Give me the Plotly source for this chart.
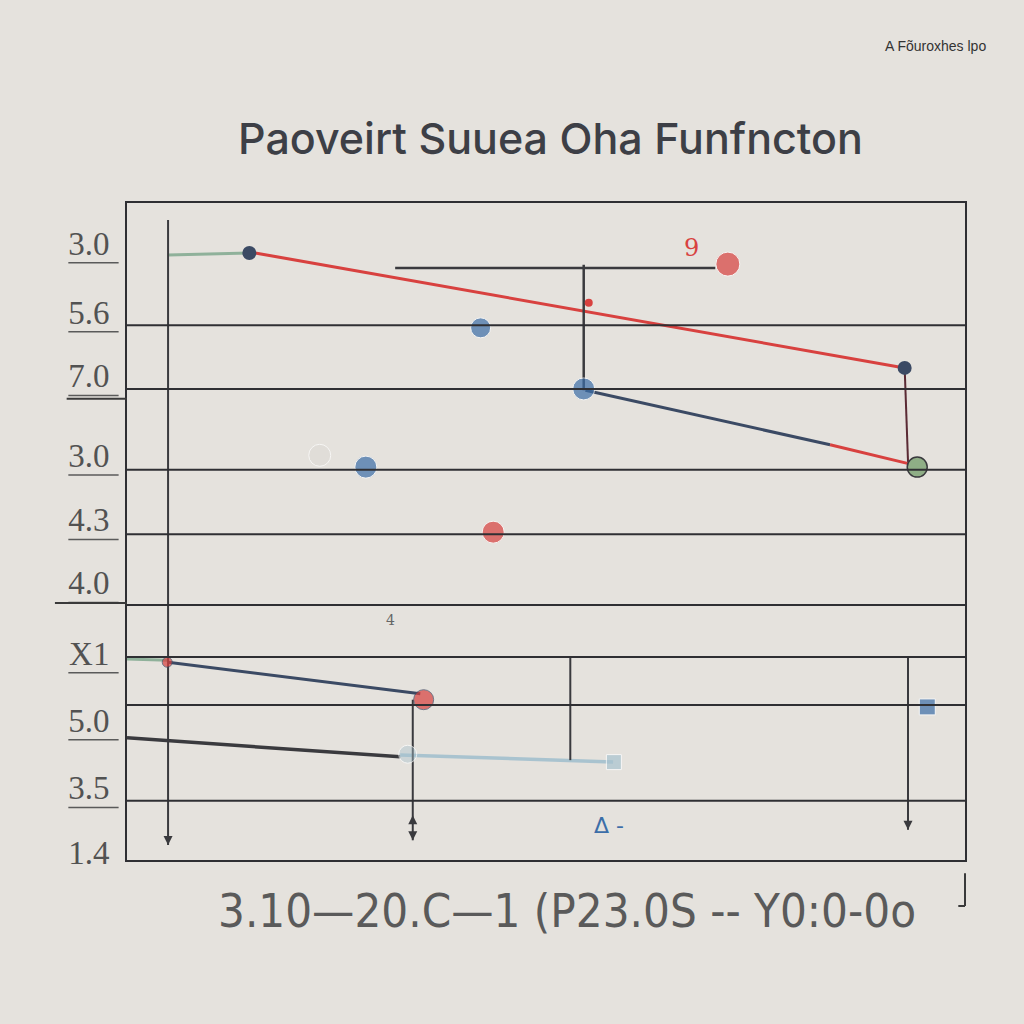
import plotly.graph_objects as go

# ---- data (x: 0..10, y: 0..10) ----
title_text = "Paoveirt Suuea Oha Funfncton"
x_axis_text = "3.10—20.C—1 (P23.0S -- Y0:0-0o"
corner_text = "A Fõuroxhes lpo"

y_tick_vals = [9.39, 8.34, 7.37, 6.16, 5.18, 4.22, 3.15, 2.13, 1.10, 0.11]
y_tick_text = ["3.0", "5.6", "7.0", "3.0", "4.3", "4.0", "X1", "5.0", "3.5", "1.4"]

grid_y = [8.14, 7.17, 5.94, 4.96, 3.88, 3.09, 2.36, 0.90]

# upper series
red_x = [1.53, 9.28]
red_y = [9.24, 7.49]
green_top_x = [0.49, 1.46]
green_top_y = [9.21, 9.24]
drop_x = [9.28, 9.32]
drop_y = [7.49, 6.06]
navy_x = [5.47, 8.39]
navy_y = [7.15, 6.32]
red2_x = [8.39, 9.40]
red2_y = [6.32, 6.01]
hbar_x = [3.20, 7.02]
hbar_y = [9.01, 9.01]
vbar_x = [5.45, 5.45]
vbar_y = [9.06, 7.15]

blue_pts_x = [4.22, 2.85, 5.45]
blue_pts_y = [8.10, 5.98, 7.17]
blue_pts_size = [20, 22, 22]
red_pts_x = [7.17, 4.37]
red_pts_y = [9.07, 4.99]
red_pts_size = [24, 22]
dark_pts_x = [1.46, 9.28]
dark_pts_y = [9.24, 7.49]
green_pt_x = [9.43]
green_pt_y = [5.98]

# lower series
green_low_x = [0.0, 0.49]
green_low_y = [3.06, 3.04]
navy_low_x = [0.49, 3.50]
navy_low_y = [3.01, 2.53]
dark_low_x = [0.0, 3.26]
dark_low_y = [1.86, 1.57]
lblue_low_x = [3.26, 5.80]
lblue_low_y = [1.60, 1.49]
# (x, y top, y bottom, arrowhead at bottom)
vlines = [(0.49, 9.74, 0.23, True), (3.41, 2.44, 0.30, True),
          (5.29, 3.09, 1.52, False), (9.32, 3.09, 0.46, True)]

BG = "#e5e2dd"
RED = "#d8413f"
BLUE = "#3c6ea8"
NAVY = "#3b4a64"
DARK = "#3a3a3e"
GREEN = "#8fb19a"
LBLUE = "#a9c3cf"

fig = go.Figure()

def line(x, y, color, width=2.5):
    fig.add_trace(go.Scatter(x=x, y=y, mode="lines", line=dict(color=color, width=width),
                             showlegend=False, hoverinfo="skip"))

line(green_top_x, green_top_y, GREEN, 3)
line(red_x, red_y, RED, 3)
line(drop_x, drop_y, "#5a2a34", 2)
line(navy_x, navy_y, NAVY, 3)
line(red2_x, red2_y, RED, 3)
line(hbar_x, hbar_y, DARK, 2.5)
line(vbar_x, vbar_y, DARK, 2.5)
line(green_low_x, green_low_y, GREEN, 3)
line(navy_low_x, navy_low_y, NAVY, 3)
line(dark_low_x, dark_low_y, DARK, 3.5)
line(lblue_low_x, lblue_low_y, LBLUE, 3.5)
for vx, vy0, vy1, arrow in vlines:
    line([vx, vx], [vy0, vy1], DARK, 2)
    if arrow:
        fig.add_trace(go.Scatter(x=[vx], y=[vy1], mode="markers",
                                 marker=dict(symbol="arrow-down", size=9, color=DARK),
                                 showlegend=False, hoverinfo="skip"))
fig.add_trace(go.Scatter(x=[3.41], y=[0.68], mode="markers",
                         marker=dict(symbol="arrow-up", size=9, color=DARK),
                         showlegend=False, hoverinfo="skip"))

fig.add_trace(go.Scatter(x=blue_pts_x, y=blue_pts_y, mode="markers",
                         marker=dict(size=blue_pts_size, color=BLUE), showlegend=False, hoverinfo="skip"))
fig.add_trace(go.Scatter(x=red_pts_x, y=red_pts_y, mode="markers",
                         marker=dict(size=red_pts_size, color=RED), showlegend=False, hoverinfo="skip"))
fig.add_trace(go.Scatter(x=dark_pts_x, y=dark_pts_y, mode="markers",
                         marker=dict(size=14, color=NAVY), showlegend=False, hoverinfo="skip"))
fig.add_trace(go.Scatter(x=green_pt_x, y=green_pt_y, mode="markers",
                         marker=dict(size=20, color="#8fae86", line=dict(color=DARK, width=1.5)),
                         showlegend=False, hoverinfo="skip"))
fig.add_trace(go.Scatter(x=[0.48, 3.54], y=[3.01, 2.44], mode="markers",
                         marker=dict(size=[10, 20], color=RED, line=dict(color=NAVY, width=1)),
                         showlegend=False, hoverinfo="skip"))
fig.add_trace(go.Scatter(x=[5.81, 9.55], y=[1.49, 2.33], mode="markers",
                         marker=dict(symbol="square", size=[15, 16], color=[LBLUE, BLUE]),
                         showlegend=False, hoverinfo="skip"))
fig.add_trace(go.Scatter(x=[3.35, 2.30], y=[1.61, 6.16], mode="markers",
                         marker=dict(size=[18, 22], color=["rgba(169,195,207,0.6)", "rgba(220,218,212,0.8)"]),
                         showlegend=False, hoverinfo="skip"))
fig.add_trace(go.Scatter(x=[5.51], y=[8.48], mode="markers",
                         marker=dict(size=8, color=RED), showlegend=False, hoverinfo="skip"))

shapes = []
for gy in grid_y:
    shapes.append(dict(type="line", xref="paper", yref="y", x0=0, x1=1, y0=gy, y1=gy,
                       line=dict(color="#2f2f33", width=2)))
# underlines of tick labels
for ty in y_tick_vals:
    shapes.append(dict(type="line", xref="paper", yref="y", x0=-0.070, x1=-0.010,
                       y0=ty - 0.30, y1=ty - 0.30, line=dict(color="#5a5a5a", width=1.5)))
shapes.append(dict(type="line", xref="paper", yref="y", x0=-0.072, x1=0, y0=7.02, y1=7.02,
                   line=dict(color="#3a3a3a", width=2)))
shapes.append(dict(type="line", xref="paper", yref="y", x0=-0.086, x1=0, y0=3.91, y1=3.91,
                   line=dict(color="#3a3a3a", width=2)))
# bracket bottom right
shapes.append(dict(type="line", xref="paper", yref="paper", x0=1.0, x1=1.0, y0=-0.02, y1=-0.07,
                   line=dict(color="#3a3a3a", width=2)))
shapes.append(dict(type="line", xref="paper", yref="paper", x0=0.992, x1=1.0, y0=-0.07, y1=-0.07,
                   line=dict(color="#3a3a3a", width=2)))

annotations = [
    dict(text=title_text, xref="paper", yref="paper", x=(550 - 127) / 838, y=1.0 + 65 / 657, showarrow=False,
         font=dict(family="Inter, Open Sans", size=43, color="#3d3f46", weight=500),
         xanchor="center", yanchor="middle"),
    dict(text=corner_text, xref="paper", yref="paper", x=(935 - 127) / 838, y=1.0 + 157 / 657,
         showarrow=False, font=dict(family="Liberation Sans", size=14, color="#333"),
         xanchor="center", yanchor="middle"),
    dict(text=x_axis_text, xref="paper", yref="paper", x=(567 - 127) / 838, y=-50 / 657,
         showarrow=False, font=dict(family="DejaVu Sans Condensed, DejaVu Sans", size=47, color="#5a5a5a"),
         xanchor="center", yanchor="middle"),
    dict(text="9", x=6.74, y=9.31, showarrow=False, font=dict(family="DejaVu Serif", size=24, color=RED)),
    dict(text="Δ -", x=5.75, y=0.53, showarrow=False, font=dict(family="DejaVu Sans", size=22, color=BLUE)),
    dict(text="4", x=3.15, y=3.65, showarrow=False, font=dict(family="DejaVu Serif", size=14, color="#666")),
]

fig.update_layout(
    width=1024, height=1024,
    margin=dict(l=127, r=59, t=203, b=164),
    paper_bgcolor=BG, plot_bgcolor=BG,
    shapes=shapes, annotations=annotations,
    xaxis=dict(range=[0, 10], showgrid=False, zeroline=False, showticklabels=False,
               showline=True, mirror=True, linecolor="#2f2f33", linewidth=2),
    yaxis=dict(range=[0, 10], showgrid=False, zeroline=False,
               tickvals=y_tick_vals, ticktext=y_tick_text, ticks="", ticklabelstandoff=9,
               tickfont=dict(family="Liberation Serif", size=33, color="#525252"),
               showline=True, mirror=True, linecolor="#2f2f33", linewidth=2),
)

fig.write_html("out.html")
